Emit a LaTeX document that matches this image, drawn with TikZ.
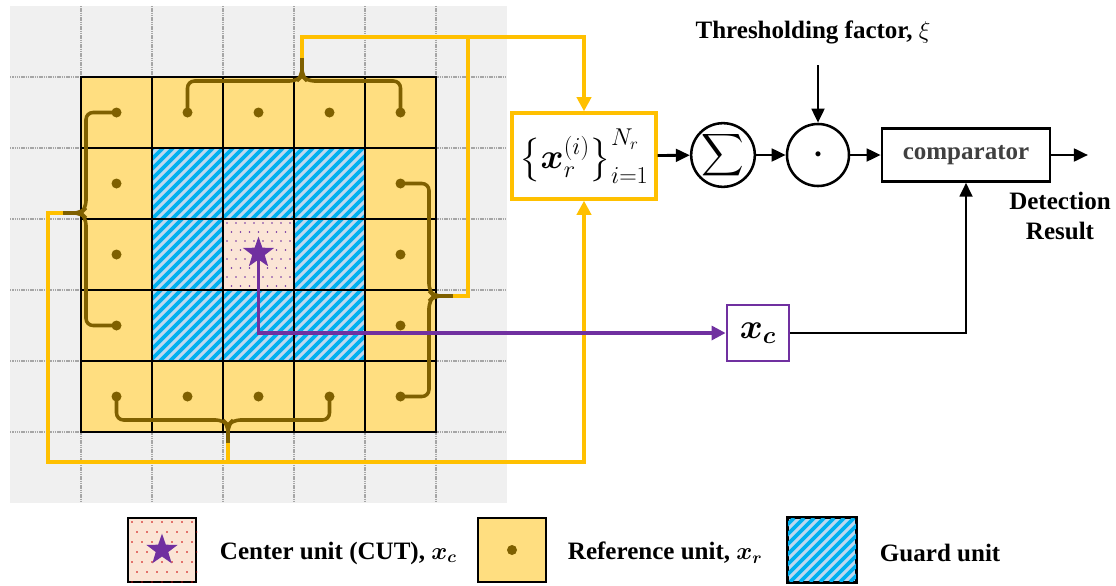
\documentclass[tikz,border=0pt]{standalone}
\usepackage{amsmath,amssymb,bm}
\usepackage{fontspec}
\setmainfont{Liberation Serif}
\usetikzlibrary{shapes.geometric,arrows.meta,positioning,calc}
\definecolor{GridGray}{RGB}{240,240,240}
\definecolor{RefYellow}{RGB}{255,222,128}
\definecolor{RefBrown}{RGB}{127,96,0}
\definecolor{WireGold}{RGB}{255,192,0}
\definecolor{GuardBlue}{RGB}{189,215,238}
\definecolor{GuardCyan}{RGB}{0,176,240}
\definecolor{CutPink}{RGB}{251,229,214}
\definecolor{CutPurple}{RGB}{112,48,160}

\tikzset{
  refdot/.style={circle, fill=RefBrown, inner sep=0pt, minimum size=0.25cm},
  bracket/.style={draw=RefBrown, line width=2.5pt, rounded corners=5pt},
  wire/.style={draw=WireGold, line width=2.8pt},
  wirehead/.style={-{Triangle[length=10pt,width=10pt]}},
  flow/.style={line width=2pt, -{Triangle[length=10pt,width=9pt]}},
  opnode/.style={circle, draw, line width=1.8pt, minimum size=1.55cm, inner sep=0pt},
  lab/.style={font=\bfseries\fontsize{17.8}{21}\selectfont},
  cutstar/.style={star, star points=5, star point ratio=2.5, fill=CutPurple, inner sep=0pt, minimum size=0.82cm},
  legbox/.style={draw, line width=1.6pt, minimum width=1.7cm, minimum height=1.6cm, inner sep=0pt},
}

\begin{document}
\begin{tikzpicture}[x=0.025cm, y=-0.025cm]
  \useasboundingbox (0,0) rectangle (1116,585);

  % Background grid
  \fill[GridGray] (10,6) rectangle (507,503);
  \foreach \i in {1,...,6} {
    \draw[gray!70, line width=0.8pt, dash pattern=on 1pt off 0.6pt] ({10+71*\i},6) -- ({10+71*\i},503);
    \draw[gray!70, line width=0.8pt, dash pattern=on 1pt off 0.6pt] (10,{6+71*\i}) -- (507,{6+71*\i});
  }

  % Reference ring
  \fill[RefYellow] (81,77) rectangle (436,432);
  % Guard cells
  \begin{scope}
    \clip (152,148) rectangle (365,361);
    \fill[GuardBlue] (152,148) rectangle (365,361);
    \foreach \k in {-70,-60,...,370}
      \draw[GuardCyan, line width=2.6pt] (\k,361) -- ++(213,-213);
  \end{scope}
  % Cell under test
  \fill[CutPink] (223,219) rectangle (294,290);
  \foreach \i in {0,...,7} {
    \foreach \j in {0,...,7} {
      \pgfmathsetmacro{\dx}{227+9*\i+4.5*mod(\j,2)}
      \pgfmathsetmacro{\dy}{223+9*\j}
      \fill[CutPurple] (\dx,\dy) circle (0.7pt);
    }
  }
  \foreach \i in {1,...,5} {
    \foreach \j in {1,...,5} {
      \draw[line width=1.2pt] ({10+71*\i},{6+71*\j}) rectangle ++(71,71);
    }
  }

  % Reference points
  \foreach \i/\j in {1/1,2/1,3/1,4/1,5/1,1/2,5/2,1/3,5/3,1/4,5/4,1/5,2/5,3/5,4/5,5/5}
    \node[refdot] (r\i\j) at ({45.5+71*\i},{41.5+71*\j}) {};

  % Brace tips
  \coordinate (tipT) at (302,58);
  \coordinate (tipL) at (63,213);
  \coordinate (tipR) at (453,296);
  \coordinate (tipB) at (228,443);

  % Brackets
  \draw[bracket] (r21.center) |- (297,81) -- (302,76) -- (tipT);
  \draw[bracket] (tipT) -- (302,76) -- (307,81) -| (r51.center);
  \draw[bracket] (r11.center) -| (86,208) -- (81,213) -- (tipL);
  \draw[bracket] (tipL) -- (81,213) -- (86,218) |- (r14.center);
  \draw[bracket] (r52.center) -| (429,291) -- (434,296) -- (tipR);
  \draw[bracket] (tipR) -- (434,296) -- (429,301) |- (r55.center);
  \draw[bracket] (r15.center) |- (223,420) -- (228,425) -- (tipB);
  \draw[bracket] (tipB) -- (228,425) -- (233,420) -| (r45.center);

  % Processing chain
  \node[draw=WireGold, line width=2.4pt, minimum width=3.6cm, minimum height=2.15cm, inner sep=0pt] (refset) at (584,156)
    {\fontsize{26}{30}\selectfont$\displaystyle\left\{\bm{x}_r^{(i)}\right\}_{i=1}^{N_r}$};
  \node[opnode] (sumop) at (723,155) {\fontsize{21}{25}\selectfont$\displaystyle\sum$};
  \node[opnode] (mulop) at (818,155) {\fontsize{9}{10}\selectfont$\bullet$};
  \node[draw, line width=1.8pt, minimum width=4.2cm, minimum height=1.32cm, lab, text=black!75] (comp) at (966,155) {comparator};
  \node[draw=CutPurple, line width=2pt, minimum width=1.55cm, minimum height=1.4cm, inner sep=0pt] (xcbox) at (758,333)
    {\fontsize{26}{30}\selectfont$\bm{x}_{\bm{c}}$};
  \node[lab] (thr) at (813,32) {Thresholding factor, \textmd{$\xi$}};
  \node[lab, align=center] (det) at (1060,216) {Detection\\Result};
  \coordinate (thrin) at (818,65);
  \coordinate (out) at (1088,155);

  % Star
  \node[cutstar] (cut) at (258.5,253) {};

  % Yellow wires
  \draw[wire] (tipR) -| (468,37);
  \draw[wire, wirehead] (tipT) -- (302,37) -| (refset.north);
  \draw[wire] (tipB) -- (228,462);
  \draw[wire, wirehead] (tipL) -| (48,462) -| (refset.south);

  % Purple wire
  \draw[CutPurple, line width=2.2pt, -{Triangle[length=10pt,width=10pt]}] (cut.center) |- (xcbox.west);

  % Black arrows
  \draw[flow] (refset) -- (sumop);
  \draw[flow] (sumop) -- (mulop);
  \draw[flow] (mulop) -- (comp);
  \draw[flow] (thrin) -- (mulop);
  \draw[flow] (comp) -- (out);
  \draw[flow] (xcbox.east) -| (comp.south);

  % Legend
  \node[legbox, fill=CutPink] (legcut) at (162,550) {};
  \begin{scope}
    \clip (legcut.south west) rectangle (legcut.north east);
    \foreach \i in {0,...,6} {
      \foreach \j in {0,...,6} {
        \pgfmathsetmacro{\dx}{132+10*\i+5*mod(\j,2)}
        \pgfmathsetmacro{\dy}{522+10*\j}
        \fill[red!80!black] (\dx,\dy) circle (0.7pt);
      }
    }
  \end{scope}
  \node[cutstar] at (legcut) {};
  \node[lab, anchor=west] (legcuttxt) at (215,553) {Center unit (CUT), $\bm{x}_{\bm{c}}$};

  \node[legbox, fill=RefYellow] (legref) at (512,550) {};
  \node[refdot] at (legref) {};
  \node[lab, anchor=west] (legreftxt) at (563,553) {Reference unit, $\bm{x}_{\bm{r}}$};

  \node[legbox, fill=GuardBlue] (legguard) at (822,550) {};
  \begin{scope}
    \clip (legguard.south west) rectangle (legguard.north east);
    \foreach \k in {700,710,...,870}
      \draw[GuardCyan, line width=2.6pt] (\k,582) -- ++(64,-64);
  \end{scope}
  \draw[line width=1.6pt] (legguard.south west) rectangle (legguard.north east);
  \node[lab, anchor=west] (legguardtxt) at (875,553) {Guard unit};
\end{tikzpicture}
\end{document}
